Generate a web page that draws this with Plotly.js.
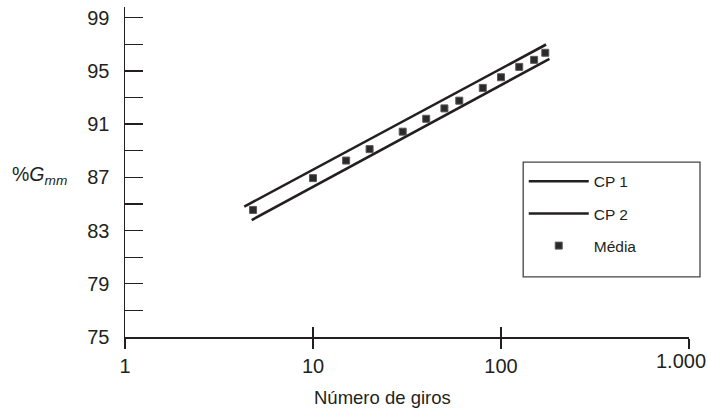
<!DOCTYPE html>
<html>
<head>
<meta charset="utf-8">
<script src="https://cdn.plot.ly/plotly-3.0.1.min.js"></script>
<style>
  html, body { margin: 0; padding: 0; background: #fff; }
  #chart { width: 708px; height: 413px; }
</style>
</head>
<body>
<div id="chart"></div>
<script>
// Compaction curves: %Gmm versus number of gyrations (log scale)
const cp1Giros = [4.31, 173.7];
const cp1Gmm   = [84.80, 96.98];

const cp2Giros = [4.72, 181];
const cp2Gmm   = [83.79, 95.90];

const mediaGiros = [4.8, 10, 15, 20, 30, 40, 50, 60, 80, 100, 125, 150, 172];
const mediaGmm   = [84.55, 86.94, 88.26, 89.12, 90.43, 91.40, 92.18, 92.76, 93.72, 94.52, 95.30, 95.83, 96.36];

const xTickVals  = [1, 10, 100, 1000];
const xTickText  = ['1', '10', '100', ''];
const lastXLabel = '1.000';   // drawn separately, pulled in from the page edge

const ink = '#231f20';
const fontFamily = '"Liberation Sans", Arial, sans-serif';

const traces = [
  {
    x: cp1Giros, y: cp1Gmm, name: 'CP 1', type: 'scatter', mode: 'lines',
    line: { color: ink, width: 2.6 }, legendgroup: 'a'
  },
  {
    x: cp2Giros, y: cp2Gmm, name: 'CP 2', type: 'scatter', mode: 'lines',
    line: { color: ink, width: 2.6 }, legendgroup: 'b'
  },
  {
    x: mediaGiros, y: mediaGmm, name: 'Média', type: 'scatter', mode: 'markers',
    marker: { symbol: 'square', size: 7, color: '#2a2a2a', line: { color: '#5a5a5a', width: 1 } },
    legendgroup: 'c'
  },
  // empty trace so the overlaid axis (upward tick marks) is rendered
  {
    x: [], y: [], xaxis: 'x2', yaxis: 'y', type: 'scatter', mode: 'lines',
    showlegend: false, hoverinfo: 'skip'
  }
];

const layout = {
  width: 708, height: 413,
  margin: { l: 125, r: 19, t: 7, b: 76 },
  paper_bgcolor: '#fff', plot_bgcolor: '#fff',
  font: { family: fontFamily, color: ink, size: 20 },
  showlegend: true,
  legend: {
    x: 0.707, y: 0.522, xanchor: 'left', yanchor: 'top',
    bgcolor: 'rgba(0,0,0,0)', borderwidth: 0,
    font: { family: fontFamily, size: 15.5, color: ink },
    itemwidth: 60, tracegroupgap: 9
  },
  xaxis: {
    type: 'log', range: [0, 3],
    tickmode: 'array', tickvals: xTickVals, ticktext: xTickText,
    ticks: 'outside', ticklen: 10, tickwidth: 1.3, tickcolor: ink,
    showline: true, linecolor: ink, linewidth: 1.5,
    showgrid: false, zeroline: false,
    tickfont: { size: 20, color: ink }
  },
  xaxis2: {
    type: 'log', range: [0, 3], overlaying: 'x', anchor: 'y', side: 'bottom',
    tickmode: 'array', tickvals: xTickVals, showticklabels: false,
    ticks: 'inside', ticklen: 10, tickwidth: 1.3, tickcolor: ink,
    showline: false, showgrid: false, zeroline: false
  },
  yaxis: {
    range: [75, 99.8],
    tickmode: 'linear', tick0: 75, dtick: 4,
    ticks: 'inside', ticklen: 18, tickwidth: 1.3, tickcolor: ink,
    minor: { tick0: 75, dtick: 2, ticks: 'inside', ticklen: 18, tickwidth: 1.3, tickcolor: ink, showgrid: false },
    showline: true, linecolor: ink, linewidth: 1.5,
    showgrid: false, zeroline: false,
    ticklabelstandoff: 10,
    tickfont: { size: 20, color: ink }
  },
  shapes: [
    {
      type: 'rect', xref: 'paper', yref: 'paper',
      x0: 0.706, x1: 1.0195, y0: 0.182, y1: 0.530,
      line: { color: '#444', width: 1.3 }, fillcolor: 'rgba(0,0,0,0)'
    }
  ],
  annotations: [
    {
      text: lastXLabel, xref: 'x', yref: 'paper',
      x: Math.log10(xTickVals[3]), y: -0.0742, xanchor: 'center', yanchor: 'middle',
      xshift: -8.5, showarrow: false, font: { size: 20, color: ink }
    },
    {
      text: 'Número de giros', xref: 'paper', yref: 'paper',
      x: 0.457, y: -0.182, xanchor: 'center', yanchor: 'middle',
      showarrow: false, font: { size: 18.5, color: ink }
    },
    {
      text: '%<i>G</i><sub><i>mm</i></sub>', xref: 'paper', yref: 'paper',
      x: -0.151, y: 0.49, xanchor: 'center', yanchor: 'middle',
      showarrow: false, font: { size: 19.5, color: ink }
    }
  ]
};

Plotly.newPlot('chart', traces, layout, { displayModeBar: false, staticPlot: true });
</script>
</body>
</html>
